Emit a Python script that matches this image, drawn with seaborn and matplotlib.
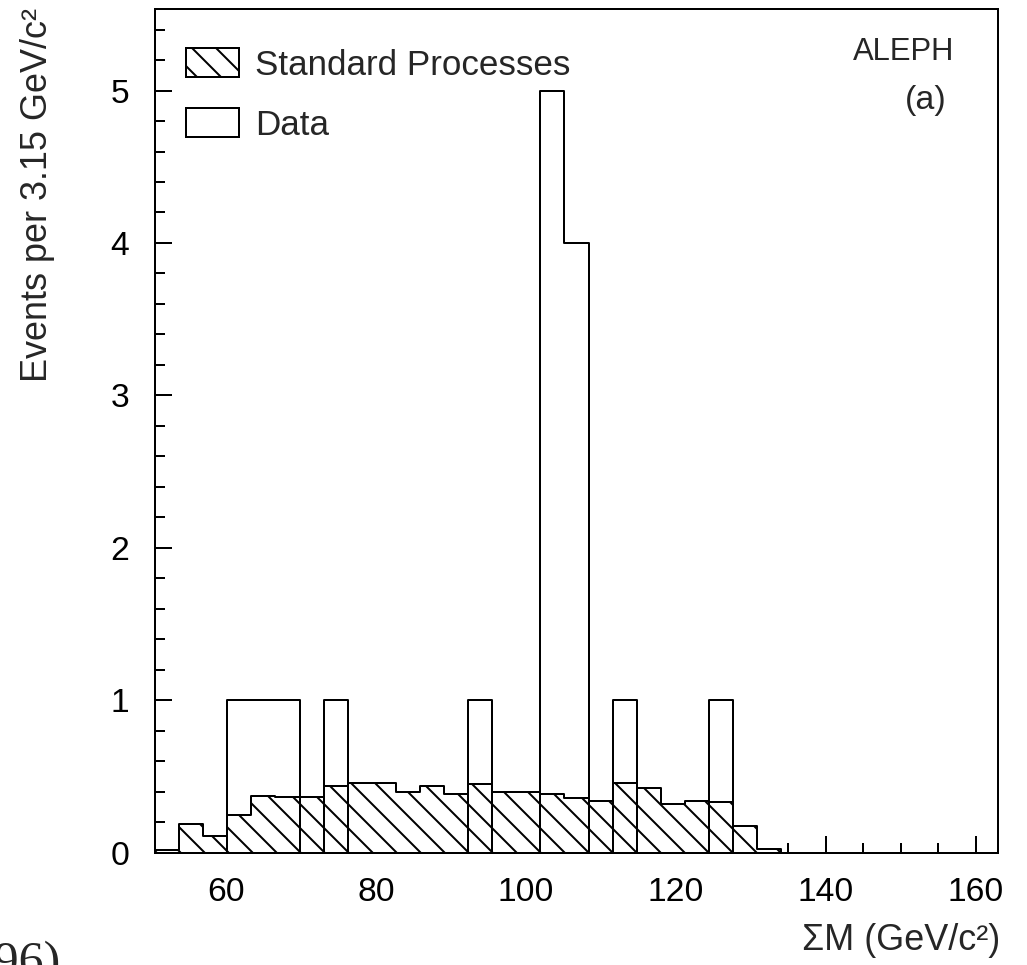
import numpy as np
import pandas as pd
import seaborn as sns
import matplotlib.pyplot as plt
from matplotlib.patches import Patch
from matplotlib.ticker import MultipleLocator

sns.set_style("ticks")
plt.rcParams['font.family'] = ['Liberation Sans', 'DejaVu Sans']
plt.rcParams['hatch.linewidth'] = 1.0

# histogram binning (35 bins over the plotted range)
x_lo, x_hi, n_bins = 50.5, 163.0, 35
edges = np.linspace(x_lo, x_hi, n_bins + 1)
centers = 0.5 * (edges[:-1] + edges[1:])

# expected standard-model background per bin (hatched)
background = [0.015, 0.19, 0.11, 0.25, 0.375, 0.365, 0.365, 0.435, 0.46, 0.46,
              0.395, 0.435, 0.385, 0.45, 0.395, 0.395, 0.385, 0.36, 0.34, 0.46,
              0.425, 0.32, 0.34, 0.33, 0.175, 0.025, 0, 0, 0, 0,
              0, 0, 0, 0, 0]
# observed events per bin
data = [0, 0, 0, 1, 1, 1, 0, 1, 0, 0,
        0, 0, 0, 1, 0, 0, 5, 4, 0, 1,
        0, 0, 0, 1, 0, 0, 0, 0, 0, 0,
        0, 0, 0, 0, 0]

df = pd.DataFrame({'mass': centers, 'bkg': background, 'obs': data})

W, H, DPI = 1027, 965, 144
fig = plt.figure(figsize=(W / DPI, H / DPI), dpi=DPI)


def fx(px):
    return px / W


def fy(py):
    return 1 - py / H


ax = fig.add_axes([fx(155), fy(852.7), fx(998) - fx(155), fy(9) - fy(852.7)])

sns.histplot(data=df, x='mass', weights='bkg', bins=edges.tolist(), element='step',
             fill=True, facecolor='white', edgecolor='black', linewidth=1,
             hatch='\\\\', ax=ax)
sns.histplot(data=df, x='mass', weights='obs', bins=edges.tolist(), element='step',
             fill=False, color='black', linewidth=1, ax=ax)

ax.set_xlim(x_lo, x_hi)
ax.set_ylim(0, 5.535)
ax.xaxis.set_major_locator(MultipleLocator(20))
ax.xaxis.set_minor_locator(MultipleLocator(5))
ax.yaxis.set_major_locator(MultipleLocator(1))
ax.yaxis.set_minor_locator(MultipleLocator(0.2))
ax.tick_params(which='both', direction='in', width=1, colors='black',
               top=False, right=False, labelsize=16.8)
ax.tick_params(axis='x', pad=12)
ax.tick_params(axis='y', pad=13)
ax.tick_params(which='major', length=8.5)
ax.tick_params(which='minor', length=5)
for s in ax.spines.values():
    s.set_linewidth(1)
    s.set_color('black')

ax.set_xlabel('')
ax.set_ylabel('')
fig.text(fx(1000), fy(941), 'ΣM (GeV/c²)', ha='right', va='center', fontsize=18)
fig.text(fx(38), fy(8), 'Events per 3.15 GeV/c²', rotation=90,
         ha='center', va='top', fontsize=18)

fig.text(fx(954), fy(52), 'ALEPH', ha='right', va='center', fontsize=15.5)
fig.text(fx(926), fy(100), '(a)', ha='center', va='center', fontsize=17)

handles = [Patch(facecolor='white', edgecolor='black', hatch='\\\\', linewidth=1),
           Patch(facecolor='white', edgecolor='black', linewidth=1)]
ax.legend(handles, ['Standard Processes', 'Data'], loc='upper left',
          bbox_to_anchor=(fx(186), fy(48)), bbox_transform=fig.transFigure,
          frameon=False, fontsize=17.5, borderpad=0, borderaxespad=0,
          handlelength=1.52, handleheight=0.9, handletextpad=0.46,
          labelspacing=0.76)

fig.text(fx(61), fy(976), '(1996)', ha='right', va='baseline', fontsize=25,
         family='Liberation Serif')

fig.savefig('out.png', dpi=DPI)
